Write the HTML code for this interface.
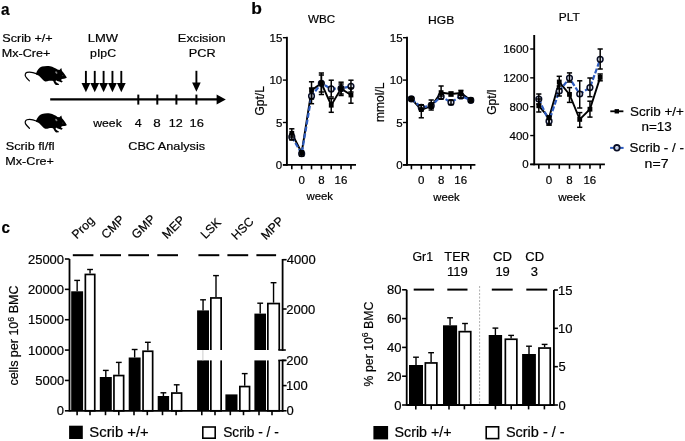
<!DOCTYPE html>
<html><head><meta charset="utf-8"><style>
html,body{margin:0;padding:0;background:#fff;}
svg{display:block;will-change:transform;}
text{font-family:"Liberation Sans",sans-serif;fill:#000;stroke:#000;stroke-width:0.2px;}
</style></head><body>
<svg width="685" height="441" viewBox="0 0 685 441">
<rect width="685" height="441" fill="#fff"/>
<text x="0.89" y="14.50" font-size="17.12" font-weight="700" fill="#000" textLength="8.51" lengthAdjust="spacingAndGlyphs">a</text>
<text x="2.28" y="41.80" font-size="11.60" font-weight="400" fill="#000" textLength="50.39" lengthAdjust="spacingAndGlyphs">Scrib +/+</text>
<text x="1.81" y="56.60" font-size="11.60" font-weight="400" fill="#000" textLength="48.55" lengthAdjust="spacingAndGlyphs">Mx-Cre+</text>
<text x="87.78" y="41.80" font-size="11.60" font-weight="400" fill="#000" textLength="30.31" lengthAdjust="spacingAndGlyphs">LMW</text>
<text x="90.05" y="56.50" font-size="11.60" font-weight="400" fill="#000" textLength="25.99" lengthAdjust="spacingAndGlyphs">pIpC</text>
<text x="177.89" y="42.10" font-size="11.60" font-weight="400" fill="#000" textLength="47.71" lengthAdjust="spacingAndGlyphs">Excision</text>
<text x="188.80" y="57.20" font-size="11.60" font-weight="400" fill="#000" textLength="26.84" lengthAdjust="spacingAndGlyphs">PCR</text>
<text x="93.25" y="127.10" font-size="11.60" font-weight="400" fill="#000" textLength="28.49" lengthAdjust="spacingAndGlyphs">week</text>
<text x="134.67" y="127.10" font-size="11.60" font-weight="400" fill="#000" textLength="6.94" lengthAdjust="spacingAndGlyphs">4</text>
<text x="153.38" y="127.10" font-size="11.60" font-weight="400" fill="#000" textLength="7.46" lengthAdjust="spacingAndGlyphs">8</text>
<text x="168.71" y="127.10" font-size="11.60" font-weight="400" fill="#000" textLength="14.00" lengthAdjust="spacingAndGlyphs">12</text>
<text x="189.58" y="127.10" font-size="11.60" font-weight="400" fill="#000" textLength="14.35" lengthAdjust="spacingAndGlyphs">16</text>
<text x="128.22" y="150.20" font-size="11.60" font-weight="400" fill="#000" textLength="76.88" lengthAdjust="spacingAndGlyphs">CBC Analysis</text>
<text x="5.78" y="150.30" font-size="11.60" font-weight="400" fill="#000" textLength="48.82" lengthAdjust="spacingAndGlyphs">Scrib fl/fl</text>
<text x="5.31" y="165.10" font-size="11.60" font-weight="400" fill="#000" textLength="48.66" lengthAdjust="spacingAndGlyphs">Mx-Cre+</text>
<line x1="50.20" y1="99.40" x2="218.00" y2="99.40" stroke="#000" stroke-width="2.1" />
<path d="M216.6 94.4 L225.8 99.4 L216.6 104.4 Z" fill="#000"/>
<line x1="138.30" y1="94.60" x2="138.30" y2="104.60" stroke="#000" stroke-width="2.0" />
<line x1="157.30" y1="94.60" x2="157.30" y2="104.60" stroke="#000" stroke-width="2.0" />
<line x1="176.40" y1="94.60" x2="176.40" y2="104.60" stroke="#000" stroke-width="2.0" />
<line x1="196.40" y1="94.60" x2="196.40" y2="104.60" stroke="#000" stroke-width="2.0" />
<line x1="85.90" y1="70.90" x2="85.90" y2="84.00" stroke="#000" stroke-width="1.9" />
<path d="M81.50 83.0 L90.30 83.0 L85.90 92.2 Z" fill="#000"/>
<line x1="94.75" y1="70.90" x2="94.75" y2="84.00" stroke="#000" stroke-width="1.9" />
<path d="M90.35 83.0 L99.15 83.0 L94.75 92.2 Z" fill="#000"/>
<line x1="103.60" y1="70.90" x2="103.60" y2="84.00" stroke="#000" stroke-width="1.9" />
<path d="M99.20 83.0 L108.00 83.0 L103.60 92.2 Z" fill="#000"/>
<line x1="112.45" y1="70.90" x2="112.45" y2="84.00" stroke="#000" stroke-width="1.9" />
<path d="M108.05 83.0 L116.85 83.0 L112.45 92.2 Z" fill="#000"/>
<line x1="121.30" y1="70.90" x2="121.30" y2="84.00" stroke="#000" stroke-width="1.9" />
<path d="M116.90 83.0 L125.70 83.0 L121.30 92.2 Z" fill="#000"/>
<line x1="196.40" y1="70.80" x2="196.40" y2="84.00" stroke="#000" stroke-width="1.9" />
<path d="M192.10 82.6 L200.70 82.6 L196.40 91.8 Z" fill="#000"/>
<g transform="translate(22,62)"><path d="M14 11.4 C15 8.5 17 5.5 20 4.6 C22.5 3.9 26 3.8 28.1 4.2 C31 4.8 33.5 6.2 35.5 7.5 L37.4 7.9 L39.3 6.0 L40 8.9 C41.5 10.5 43 12.5 44.8 15.6 C44.2 16.4 43.2 16.6 42 16.7 L39.8 16.9 L39.0 18.2 L40.8 19.2 L39.6 20.4 L37.2 19.6 L35.2 18.9 L34.0 18.2 L33.6 19.5 C34.2 20.4 35.5 21.2 37.0 22.0 L36.8 22.9 L34.2 23.1 C33.2 22.6 32.4 21.6 31.8 20.2 L31.2 19.0 C30 18.6 28.5 18.6 27 18.8 C25.5 19.2 24.2 19.6 23.2 19.4 C21.5 18.6 19.5 16.5 18.4 15.2 C17.2 13.9 15.8 12.8 14 12.4 Z" fill="#000"/><path d="M15 11.9 C11 10.2 7.5 9.6 5 10.4 C3.2 11.1 2.8 12.8 3.6 14.5 C4.5 16.2 6 17.6 7.4 18.9" fill="none" stroke="#000" stroke-width="1.2" stroke-linecap="round"/><ellipse cx="34.3" cy="10.6" rx="0.9" ry="1.4" transform="rotate(-35 34.3 10.6)" fill="#808080"/><circle cx="40.8" cy="13.6" r="0.55" fill="#444"/></g>
<g transform="translate(22,109.4)"><path d="M14 11.4 C15 8.5 17 5.5 20 4.6 C22.5 3.9 26 3.8 28.1 4.2 C31 4.8 33.5 6.2 35.5 7.5 L37.4 7.9 L39.3 6.0 L40 8.9 C41.5 10.5 43 12.5 44.8 15.6 C44.2 16.4 43.2 16.6 42 16.7 L39.8 16.9 L39.0 18.2 L40.8 19.2 L39.6 20.4 L37.2 19.6 L35.2 18.9 L34.0 18.2 L33.6 19.5 C34.2 20.4 35.5 21.2 37.0 22.0 L36.8 22.9 L34.2 23.1 C33.2 22.6 32.4 21.6 31.8 20.2 L31.2 19.0 C30 18.6 28.5 18.6 27 18.8 C25.5 19.2 24.2 19.6 23.2 19.4 C21.5 18.6 19.5 16.5 18.4 15.2 C17.2 13.9 15.8 12.8 14 12.4 Z" fill="#000"/><path d="M15 11.9 C11 10.2 7.5 9.6 5 10.4 C3.2 11.1 2.8 12.8 3.6 14.5 C4.5 16.2 6 17.6 7.4 18.9" fill="none" stroke="#000" stroke-width="1.2" stroke-linecap="round"/><ellipse cx="34.3" cy="10.6" rx="0.9" ry="1.4" transform="rotate(-35 34.3 10.6)" fill="#808080"/><circle cx="40.8" cy="13.6" r="0.55" fill="#444"/></g>
<text x="251.22" y="13.60" font-size="16.55" font-weight="700" fill="#000" textLength="10.64" lengthAdjust="spacingAndGlyphs">b</text>
<text x="308.09" y="22.60" font-size="11.50" font-weight="400" fill="#000" textLength="27.13" lengthAdjust="spacingAndGlyphs">WBC</text>
<text x="428.05" y="23.80" font-size="11.50" font-weight="400" fill="#000" textLength="26.23" lengthAdjust="spacingAndGlyphs">HGB</text>
<text x="558.87" y="20.80" font-size="11.50" font-weight="400" fill="#000" textLength="20.95" lengthAdjust="spacingAndGlyphs">PLT</text>
<line x1="286.90" y1="36.80" x2="286.90" y2="165.80" stroke="#000" stroke-width="1.9" />
<line x1="282.90" y1="164.90" x2="356.00" y2="164.90" stroke="#000" stroke-width="1.9" />
<line x1="282.90" y1="164.90" x2="286.90" y2="164.90" stroke="#000" stroke-width="1.4" />
<text x="275.85" y="168.90" font-size="11.50" font-weight="400" textLength="6.40" lengthAdjust="spacingAndGlyphs">0</text>
<line x1="282.90" y1="122.50" x2="286.90" y2="122.50" stroke="#000" stroke-width="1.4" />
<text x="275.88" y="126.50" font-size="11.50" font-weight="400" textLength="6.40" lengthAdjust="spacingAndGlyphs">5</text>
<line x1="282.90" y1="80.10" x2="286.90" y2="80.10" stroke="#000" stroke-width="1.4" />
<text x="269.47" y="84.10" font-size="11.50" font-weight="400" textLength="12.79" lengthAdjust="spacingAndGlyphs">10</text>
<line x1="282.90" y1="37.70" x2="286.90" y2="37.70" stroke="#000" stroke-width="1.4" />
<text x="269.50" y="41.70" font-size="11.50" font-weight="400" textLength="12.79" lengthAdjust="spacingAndGlyphs">15</text>
<line x1="291.80" y1="164.90" x2="291.80" y2="169.30" stroke="#000" stroke-width="1.6" />
<line x1="301.66" y1="164.90" x2="301.66" y2="169.30" stroke="#000" stroke-width="1.6" />
<line x1="311.52" y1="164.90" x2="311.52" y2="169.30" stroke="#000" stroke-width="1.6" />
<line x1="321.38" y1="164.90" x2="321.38" y2="169.30" stroke="#000" stroke-width="1.6" />
<line x1="331.24" y1="164.90" x2="331.24" y2="169.30" stroke="#000" stroke-width="1.6" />
<line x1="341.10" y1="164.90" x2="341.10" y2="169.30" stroke="#000" stroke-width="1.6" />
<line x1="350.96" y1="164.90" x2="350.96" y2="169.30" stroke="#000" stroke-width="1.6" />
<text x="298.45" y="183.90" font-size="11.50" font-weight="400" textLength="6.40" lengthAdjust="spacingAndGlyphs">0</text>
<text x="318.19" y="183.90" font-size="11.50" font-weight="400" textLength="6.40" lengthAdjust="spacingAndGlyphs">8</text>
<text x="334.53" y="183.90" font-size="11.50" font-weight="400" textLength="12.79" lengthAdjust="spacingAndGlyphs">16</text>
<text x="306.45" y="199.70" font-size="11.50" font-weight="400" fill="#000" textLength="26.59" lengthAdjust="spacingAndGlyphs">week</text>
<text transform="translate(263.60,100.80) rotate(-90)" x="0" y="0" font-size="12.0" text-anchor="middle">Gpt/L</text>
<polyline points="291.80,133.30 301.66,152.60 311.52,90.40 321.38,83.30 331.24,105.20 341.10,88.60 350.96,95.00" fill="none" stroke="#000" stroke-width="1.9"/>
<polyline points="291.80,136.90 301.66,153.70 311.52,96.10 321.38,83.30 331.24,88.90 341.10,88.40 350.96,86.30" fill="none" stroke="#2d5bbf" stroke-width="2.2" stroke-dasharray="5,2"/>
<circle cx="291.80" cy="136.90" r="2.85" fill="#e2e7f4" stroke="#0a0f26" stroke-width="1.5"/>
<circle cx="301.66" cy="153.70" r="2.85" fill="#e2e7f4" stroke="#0a0f26" stroke-width="1.5"/>
<circle cx="311.52" cy="96.10" r="2.85" fill="#e2e7f4" stroke="#0a0f26" stroke-width="1.5"/>
<circle cx="321.38" cy="83.30" r="2.85" fill="#e2e7f4" stroke="#0a0f26" stroke-width="1.5"/>
<circle cx="331.24" cy="88.90" r="2.85" fill="#e2e7f4" stroke="#0a0f26" stroke-width="1.5"/>
<circle cx="341.10" cy="88.40" r="2.85" fill="#e2e7f4" stroke="#0a0f26" stroke-width="1.5"/>
<circle cx="350.96" cy="86.30" r="2.85" fill="#e2e7f4" stroke="#0a0f26" stroke-width="1.5"/>
<line x1="291.80" y1="128.80" x2="291.80" y2="137.00" stroke="#000" stroke-width="1.5" />
<line x1="289.20" y1="128.80" x2="294.40" y2="128.80" stroke="#000" stroke-width="1.5" />
<line x1="289.20" y1="137.00" x2="294.40" y2="137.00" stroke="#000" stroke-width="1.5" />
<line x1="291.80" y1="134.00" x2="291.80" y2="140.00" stroke="#000" stroke-width="1.5" />
<line x1="289.20" y1="134.00" x2="294.40" y2="134.00" stroke="#000" stroke-width="1.5" />
<line x1="289.20" y1="140.00" x2="294.40" y2="140.00" stroke="#000" stroke-width="1.5" />
<line x1="301.66" y1="151.00" x2="301.66" y2="156.00" stroke="#000" stroke-width="1.5" />
<line x1="299.06" y1="151.00" x2="304.26" y2="151.00" stroke="#000" stroke-width="1.5" />
<line x1="299.06" y1="156.00" x2="304.26" y2="156.00" stroke="#000" stroke-width="1.5" />
<line x1="311.52" y1="81.80" x2="311.52" y2="99.00" stroke="#000" stroke-width="1.5" />
<line x1="308.92" y1="81.80" x2="314.12" y2="81.80" stroke="#000" stroke-width="1.5" />
<line x1="308.92" y1="99.00" x2="314.12" y2="99.00" stroke="#000" stroke-width="1.5" />
<line x1="311.52" y1="88.00" x2="311.52" y2="103.70" stroke="#000" stroke-width="1.5" />
<line x1="308.92" y1="88.00" x2="314.12" y2="88.00" stroke="#000" stroke-width="1.5" />
<line x1="308.92" y1="103.70" x2="314.12" y2="103.70" stroke="#000" stroke-width="1.5" />
<line x1="321.38" y1="73.00" x2="321.38" y2="94.50" stroke="#000" stroke-width="1.5" />
<line x1="318.78" y1="73.00" x2="323.98" y2="73.00" stroke="#000" stroke-width="1.5" />
<line x1="318.78" y1="94.50" x2="323.98" y2="94.50" stroke="#000" stroke-width="1.5" />
<line x1="321.38" y1="75.00" x2="321.38" y2="92.00" stroke="#000" stroke-width="1.5" />
<line x1="318.78" y1="75.00" x2="323.98" y2="75.00" stroke="#000" stroke-width="1.5" />
<line x1="318.78" y1="92.00" x2="323.98" y2="92.00" stroke="#000" stroke-width="1.5" />
<line x1="331.24" y1="98.60" x2="331.24" y2="112.30" stroke="#000" stroke-width="1.5" />
<line x1="328.64" y1="98.60" x2="333.84" y2="98.60" stroke="#000" stroke-width="1.5" />
<line x1="328.64" y1="112.30" x2="333.84" y2="112.30" stroke="#000" stroke-width="1.5" />
<line x1="331.24" y1="80.20" x2="331.24" y2="97.00" stroke="#000" stroke-width="1.5" />
<line x1="328.64" y1="80.20" x2="333.84" y2="80.20" stroke="#000" stroke-width="1.5" />
<line x1="328.64" y1="97.00" x2="333.84" y2="97.00" stroke="#000" stroke-width="1.5" />
<line x1="341.10" y1="82.20" x2="341.10" y2="95.50" stroke="#000" stroke-width="1.5" />
<line x1="338.50" y1="82.20" x2="343.70" y2="82.20" stroke="#000" stroke-width="1.5" />
<line x1="338.50" y1="95.50" x2="343.70" y2="95.50" stroke="#000" stroke-width="1.5" />
<line x1="341.10" y1="84.00" x2="341.10" y2="94.00" stroke="#000" stroke-width="1.5" />
<line x1="338.50" y1="84.00" x2="343.70" y2="84.00" stroke="#000" stroke-width="1.5" />
<line x1="338.50" y1="94.00" x2="343.70" y2="94.00" stroke="#000" stroke-width="1.5" />
<line x1="350.96" y1="88.00" x2="350.96" y2="103.20" stroke="#000" stroke-width="1.5" />
<line x1="348.36" y1="88.00" x2="353.56" y2="88.00" stroke="#000" stroke-width="1.5" />
<line x1="348.36" y1="103.20" x2="353.56" y2="103.20" stroke="#000" stroke-width="1.5" />
<line x1="350.96" y1="80.20" x2="350.96" y2="92.00" stroke="#000" stroke-width="1.5" />
<line x1="348.36" y1="80.20" x2="353.56" y2="80.20" stroke="#000" stroke-width="1.5" />
<line x1="348.36" y1="92.00" x2="353.56" y2="92.00" stroke="#000" stroke-width="1.5" />
<rect x="289.40" y="130.90" width="4.80" height="4.80" fill="#000"/>
<rect x="299.26" y="150.20" width="4.80" height="4.80" fill="#000"/>
<rect x="309.12" y="88.00" width="4.80" height="4.80" fill="#000"/>
<rect x="318.98" y="80.90" width="4.80" height="4.80" fill="#000"/>
<rect x="328.84" y="102.80" width="4.80" height="4.80" fill="#000"/>
<rect x="338.70" y="86.20" width="4.80" height="4.80" fill="#000"/>
<rect x="348.56" y="92.60" width="4.80" height="4.80" fill="#000"/>
<line x1="407.00" y1="36.70" x2="407.00" y2="165.80" stroke="#000" stroke-width="1.9" />
<line x1="403.00" y1="164.90" x2="475.40" y2="164.90" stroke="#000" stroke-width="1.9" />
<line x1="403.00" y1="164.90" x2="407.00" y2="164.90" stroke="#000" stroke-width="1.4" />
<text x="396.15" y="168.90" font-size="11.50" font-weight="400" textLength="6.40" lengthAdjust="spacingAndGlyphs">0</text>
<line x1="403.00" y1="122.50" x2="407.00" y2="122.50" stroke="#000" stroke-width="1.4" />
<text x="396.18" y="126.50" font-size="11.50" font-weight="400" textLength="6.40" lengthAdjust="spacingAndGlyphs">5</text>
<line x1="403.00" y1="80.10" x2="407.00" y2="80.10" stroke="#000" stroke-width="1.4" />
<text x="389.77" y="84.10" font-size="11.50" font-weight="400" textLength="12.79" lengthAdjust="spacingAndGlyphs">10</text>
<line x1="403.00" y1="37.70" x2="407.00" y2="37.70" stroke="#000" stroke-width="1.4" />
<text x="389.80" y="41.70" font-size="11.50" font-weight="400" textLength="12.79" lengthAdjust="spacingAndGlyphs">15</text>
<line x1="411.40" y1="164.90" x2="411.40" y2="169.30" stroke="#000" stroke-width="1.6" />
<line x1="421.30" y1="164.90" x2="421.30" y2="169.30" stroke="#000" stroke-width="1.6" />
<line x1="431.20" y1="164.90" x2="431.20" y2="169.30" stroke="#000" stroke-width="1.6" />
<line x1="441.10" y1="164.90" x2="441.10" y2="169.30" stroke="#000" stroke-width="1.6" />
<line x1="451.00" y1="164.90" x2="451.00" y2="169.30" stroke="#000" stroke-width="1.6" />
<line x1="460.90" y1="164.90" x2="460.90" y2="169.30" stroke="#000" stroke-width="1.6" />
<line x1="470.80" y1="164.90" x2="470.80" y2="169.30" stroke="#000" stroke-width="1.6" />
<text x="418.09" y="183.90" font-size="11.50" font-weight="400" textLength="6.40" lengthAdjust="spacingAndGlyphs">0</text>
<text x="437.91" y="183.90" font-size="11.50" font-weight="400" textLength="6.40" lengthAdjust="spacingAndGlyphs">8</text>
<text x="454.33" y="183.90" font-size="11.50" font-weight="400" textLength="12.79" lengthAdjust="spacingAndGlyphs">16</text>
<text x="433.35" y="200.60" font-size="11.50" font-weight="400" fill="#000" textLength="26.39" lengthAdjust="spacingAndGlyphs">week</text>
<text transform="translate(383.60,102.30) rotate(-90)" x="0" y="0" font-size="12.0" text-anchor="middle">mmol/L</text>
<polyline points="411.40,98.80 421.30,109.60 431.20,106.30 441.10,92.60 451.00,94.00 460.90,93.10 470.80,100.30" fill="none" stroke="#000" stroke-width="1.9"/>
<polyline points="411.40,98.80 421.30,107.40 431.20,105.70 441.10,96.40 451.00,102.50 460.90,95.90 470.80,100.30" fill="none" stroke="#2d5bbf" stroke-width="2.2" stroke-dasharray="5,2"/>
<circle cx="411.40" cy="98.80" r="2.85" fill="#e2e7f4" stroke="#0a0f26" stroke-width="1.5"/>
<circle cx="421.30" cy="107.40" r="2.85" fill="#e2e7f4" stroke="#0a0f26" stroke-width="1.5"/>
<circle cx="431.20" cy="105.70" r="2.85" fill="#e2e7f4" stroke="#0a0f26" stroke-width="1.5"/>
<circle cx="441.10" cy="96.40" r="2.85" fill="#e2e7f4" stroke="#0a0f26" stroke-width="1.5"/>
<circle cx="451.00" cy="102.50" r="2.85" fill="#e2e7f4" stroke="#0a0f26" stroke-width="1.5"/>
<circle cx="460.90" cy="95.90" r="2.85" fill="#e2e7f4" stroke="#0a0f26" stroke-width="1.5"/>
<circle cx="470.80" cy="100.30" r="2.85" fill="#e2e7f4" stroke="#0a0f26" stroke-width="1.5"/>
<line x1="411.40" y1="97.00" x2="411.40" y2="100.50" stroke="#000" stroke-width="1.5" />
<line x1="408.80" y1="97.00" x2="414.00" y2="97.00" stroke="#000" stroke-width="1.5" />
<line x1="408.80" y1="100.50" x2="414.00" y2="100.50" stroke="#000" stroke-width="1.5" />
<line x1="411.40" y1="97.00" x2="411.40" y2="100.50" stroke="#000" stroke-width="1.5" />
<line x1="408.80" y1="97.00" x2="414.00" y2="97.00" stroke="#000" stroke-width="1.5" />
<line x1="408.80" y1="100.50" x2="414.00" y2="100.50" stroke="#000" stroke-width="1.5" />
<line x1="421.30" y1="105.00" x2="421.30" y2="117.80" stroke="#000" stroke-width="1.5" />
<line x1="418.70" y1="105.00" x2="423.90" y2="105.00" stroke="#000" stroke-width="1.5" />
<line x1="418.70" y1="117.80" x2="423.90" y2="117.80" stroke="#000" stroke-width="1.5" />
<line x1="421.30" y1="105.00" x2="421.30" y2="110.00" stroke="#000" stroke-width="1.5" />
<line x1="418.70" y1="105.00" x2="423.90" y2="105.00" stroke="#000" stroke-width="1.5" />
<line x1="418.70" y1="110.00" x2="423.90" y2="110.00" stroke="#000" stroke-width="1.5" />
<line x1="431.20" y1="100.00" x2="431.20" y2="110.00" stroke="#000" stroke-width="1.5" />
<line x1="428.60" y1="100.00" x2="433.80" y2="100.00" stroke="#000" stroke-width="1.5" />
<line x1="428.60" y1="110.00" x2="433.80" y2="110.00" stroke="#000" stroke-width="1.5" />
<line x1="431.20" y1="103.00" x2="431.20" y2="108.00" stroke="#000" stroke-width="1.5" />
<line x1="428.60" y1="103.00" x2="433.80" y2="103.00" stroke="#000" stroke-width="1.5" />
<line x1="428.60" y1="108.00" x2="433.80" y2="108.00" stroke="#000" stroke-width="1.5" />
<line x1="441.10" y1="86.00" x2="441.10" y2="96.00" stroke="#000" stroke-width="1.5" />
<line x1="438.50" y1="86.00" x2="443.70" y2="86.00" stroke="#000" stroke-width="1.5" />
<line x1="438.50" y1="96.00" x2="443.70" y2="96.00" stroke="#000" stroke-width="1.5" />
<line x1="441.10" y1="94.00" x2="441.10" y2="99.00" stroke="#000" stroke-width="1.5" />
<line x1="438.50" y1="94.00" x2="443.70" y2="94.00" stroke="#000" stroke-width="1.5" />
<line x1="438.50" y1="99.00" x2="443.70" y2="99.00" stroke="#000" stroke-width="1.5" />
<line x1="451.00" y1="92.00" x2="451.00" y2="96.00" stroke="#000" stroke-width="1.5" />
<line x1="448.40" y1="92.00" x2="453.60" y2="92.00" stroke="#000" stroke-width="1.5" />
<line x1="448.40" y1="96.00" x2="453.60" y2="96.00" stroke="#000" stroke-width="1.5" />
<line x1="451.00" y1="100.00" x2="451.00" y2="104.50" stroke="#000" stroke-width="1.5" />
<line x1="448.40" y1="100.00" x2="453.60" y2="100.00" stroke="#000" stroke-width="1.5" />
<line x1="448.40" y1="104.50" x2="453.60" y2="104.50" stroke="#000" stroke-width="1.5" />
<line x1="460.90" y1="90.40" x2="460.90" y2="95.50" stroke="#000" stroke-width="1.5" />
<line x1="458.30" y1="90.40" x2="463.50" y2="90.40" stroke="#000" stroke-width="1.5" />
<line x1="458.30" y1="95.50" x2="463.50" y2="95.50" stroke="#000" stroke-width="1.5" />
<line x1="460.90" y1="94.00" x2="460.90" y2="98.00" stroke="#000" stroke-width="1.5" />
<line x1="458.30" y1="94.00" x2="463.50" y2="94.00" stroke="#000" stroke-width="1.5" />
<line x1="458.30" y1="98.00" x2="463.50" y2="98.00" stroke="#000" stroke-width="1.5" />
<line x1="470.80" y1="98.00" x2="470.80" y2="102.00" stroke="#000" stroke-width="1.5" />
<line x1="468.20" y1="98.00" x2="473.40" y2="98.00" stroke="#000" stroke-width="1.5" />
<line x1="468.20" y1="102.00" x2="473.40" y2="102.00" stroke="#000" stroke-width="1.5" />
<line x1="470.80" y1="99.00" x2="470.80" y2="101.50" stroke="#000" stroke-width="1.5" />
<line x1="468.20" y1="99.00" x2="473.40" y2="99.00" stroke="#000" stroke-width="1.5" />
<line x1="468.20" y1="101.50" x2="473.40" y2="101.50" stroke="#000" stroke-width="1.5" />
<rect x="409.00" y="96.40" width="4.80" height="4.80" fill="#000"/>
<rect x="418.90" y="107.20" width="4.80" height="4.80" fill="#000"/>
<rect x="428.80" y="103.90" width="4.80" height="4.80" fill="#000"/>
<rect x="438.70" y="90.20" width="4.80" height="4.80" fill="#000"/>
<rect x="448.60" y="91.60" width="4.80" height="4.80" fill="#000"/>
<rect x="458.50" y="90.70" width="4.80" height="4.80" fill="#000"/>
<rect x="468.40" y="97.90" width="4.80" height="4.80" fill="#000"/>
<line x1="534.20" y1="35.00" x2="534.20" y2="165.30" stroke="#000" stroke-width="1.9" />
<line x1="530.20" y1="164.40" x2="604.90" y2="164.40" stroke="#000" stroke-width="1.9" />
<line x1="530.20" y1="164.40" x2="534.20" y2="164.40" stroke="#000" stroke-width="1.4" />
<text x="522.35" y="168.40" font-size="11.50" font-weight="400" textLength="6.40" lengthAdjust="spacingAndGlyphs">0</text>
<line x1="530.20" y1="135.55" x2="534.20" y2="135.55" stroke="#000" stroke-width="1.4" />
<text x="509.55" y="139.55" font-size="11.50" font-weight="400" textLength="19.19" lengthAdjust="spacingAndGlyphs">400</text>
<line x1="530.20" y1="106.70" x2="534.20" y2="106.70" stroke="#000" stroke-width="1.4" />
<text x="509.55" y="110.70" font-size="11.50" font-weight="400" textLength="19.19" lengthAdjust="spacingAndGlyphs">800</text>
<line x1="530.20" y1="77.85" x2="534.20" y2="77.85" stroke="#000" stroke-width="1.4" />
<text x="503.17" y="81.85" font-size="11.50" font-weight="400" textLength="25.58" lengthAdjust="spacingAndGlyphs">1200</text>
<line x1="530.20" y1="49.00" x2="534.20" y2="49.00" stroke="#000" stroke-width="1.4" />
<text x="503.17" y="53.00" font-size="11.50" font-weight="400" textLength="25.58" lengthAdjust="spacingAndGlyphs">1600</text>
<line x1="538.80" y1="164.40" x2="538.80" y2="168.80" stroke="#000" stroke-width="1.6" />
<line x1="549.03" y1="164.40" x2="549.03" y2="168.80" stroke="#000" stroke-width="1.6" />
<line x1="559.26" y1="164.40" x2="559.26" y2="168.80" stroke="#000" stroke-width="1.6" />
<line x1="569.49" y1="164.40" x2="569.49" y2="168.80" stroke="#000" stroke-width="1.6" />
<line x1="579.72" y1="164.40" x2="579.72" y2="168.80" stroke="#000" stroke-width="1.6" />
<line x1="589.95" y1="164.40" x2="589.95" y2="168.80" stroke="#000" stroke-width="1.6" />
<line x1="600.18" y1="164.40" x2="600.18" y2="168.80" stroke="#000" stroke-width="1.6" />
<text x="545.82" y="184.40" font-size="11.50" font-weight="400" textLength="6.40" lengthAdjust="spacingAndGlyphs">0</text>
<text x="566.30" y="184.40" font-size="11.50" font-weight="400" textLength="6.40" lengthAdjust="spacingAndGlyphs">8</text>
<text x="583.38" y="184.40" font-size="11.50" font-weight="400" textLength="12.79" lengthAdjust="spacingAndGlyphs">16</text>
<text x="558.15" y="200.60" font-size="11.50" font-weight="400" fill="#000" textLength="27.29" lengthAdjust="spacingAndGlyphs">week</text>
<text transform="translate(496.20,102.20) rotate(-90)" x="0" y="0" font-size="12.0" text-anchor="middle">Gpt/l</text>
<polyline points="538.80,105.80 549.03,117.80 559.26,82.00 569.49,94.40 579.72,119.40 589.95,109.20 600.18,77.40" fill="none" stroke="#000" stroke-width="1.9"/>
<polyline points="538.80,99.00 549.03,121.20 559.26,91.00 569.49,78.10 579.72,94.00 589.95,87.60 600.18,59.30" fill="none" stroke="#2d5bbf" stroke-width="2.2" stroke-dasharray="5,2"/>
<circle cx="538.80" cy="99.00" r="2.85" fill="#e2e7f4" stroke="#0a0f26" stroke-width="1.5"/>
<circle cx="549.03" cy="121.20" r="2.85" fill="#e2e7f4" stroke="#0a0f26" stroke-width="1.5"/>
<circle cx="559.26" cy="91.00" r="2.85" fill="#e2e7f4" stroke="#0a0f26" stroke-width="1.5"/>
<circle cx="569.49" cy="78.10" r="2.85" fill="#e2e7f4" stroke="#0a0f26" stroke-width="1.5"/>
<circle cx="579.72" cy="94.00" r="2.85" fill="#e2e7f4" stroke="#0a0f26" stroke-width="1.5"/>
<circle cx="589.95" cy="87.60" r="2.85" fill="#e2e7f4" stroke="#0a0f26" stroke-width="1.5"/>
<circle cx="600.18" cy="59.30" r="2.85" fill="#e2e7f4" stroke="#0a0f26" stroke-width="1.5"/>
<line x1="538.80" y1="99.00" x2="538.80" y2="112.00" stroke="#000" stroke-width="1.5" />
<line x1="536.20" y1="99.00" x2="541.40" y2="99.00" stroke="#000" stroke-width="1.5" />
<line x1="536.20" y1="112.00" x2="541.40" y2="112.00" stroke="#000" stroke-width="1.5" />
<line x1="538.80" y1="94.00" x2="538.80" y2="104.00" stroke="#000" stroke-width="1.5" />
<line x1="536.20" y1="94.00" x2="541.40" y2="94.00" stroke="#000" stroke-width="1.5" />
<line x1="536.20" y1="104.00" x2="541.40" y2="104.00" stroke="#000" stroke-width="1.5" />
<line x1="549.03" y1="116.00" x2="549.03" y2="125.00" stroke="#000" stroke-width="1.5" />
<line x1="546.43" y1="116.00" x2="551.63" y2="116.00" stroke="#000" stroke-width="1.5" />
<line x1="546.43" y1="125.00" x2="551.63" y2="125.00" stroke="#000" stroke-width="1.5" />
<line x1="549.03" y1="117.00" x2="549.03" y2="125.00" stroke="#000" stroke-width="1.5" />
<line x1="546.43" y1="117.00" x2="551.63" y2="117.00" stroke="#000" stroke-width="1.5" />
<line x1="546.43" y1="125.00" x2="551.63" y2="125.00" stroke="#000" stroke-width="1.5" />
<line x1="559.26" y1="76.30" x2="559.26" y2="88.80" stroke="#000" stroke-width="1.5" />
<line x1="556.66" y1="76.30" x2="561.86" y2="76.30" stroke="#000" stroke-width="1.5" />
<line x1="556.66" y1="88.80" x2="561.86" y2="88.80" stroke="#000" stroke-width="1.5" />
<line x1="559.26" y1="86.00" x2="559.26" y2="96.00" stroke="#000" stroke-width="1.5" />
<line x1="556.66" y1="86.00" x2="561.86" y2="86.00" stroke="#000" stroke-width="1.5" />
<line x1="556.66" y1="96.00" x2="561.86" y2="96.00" stroke="#000" stroke-width="1.5" />
<line x1="569.49" y1="87.60" x2="569.49" y2="102.40" stroke="#000" stroke-width="1.5" />
<line x1="566.89" y1="87.60" x2="572.09" y2="87.60" stroke="#000" stroke-width="1.5" />
<line x1="566.89" y1="102.40" x2="572.09" y2="102.40" stroke="#000" stroke-width="1.5" />
<line x1="569.49" y1="72.90" x2="569.49" y2="82.00" stroke="#000" stroke-width="1.5" />
<line x1="566.89" y1="72.90" x2="572.09" y2="72.90" stroke="#000" stroke-width="1.5" />
<line x1="566.89" y1="82.00" x2="572.09" y2="82.00" stroke="#000" stroke-width="1.5" />
<line x1="579.72" y1="112.60" x2="579.72" y2="127.30" stroke="#000" stroke-width="1.5" />
<line x1="577.12" y1="112.60" x2="582.32" y2="112.60" stroke="#000" stroke-width="1.5" />
<line x1="577.12" y1="127.30" x2="582.32" y2="127.30" stroke="#000" stroke-width="1.5" />
<line x1="579.72" y1="80.80" x2="579.72" y2="108.00" stroke="#000" stroke-width="1.5" />
<line x1="577.12" y1="80.80" x2="582.32" y2="80.80" stroke="#000" stroke-width="1.5" />
<line x1="577.12" y1="108.00" x2="582.32" y2="108.00" stroke="#000" stroke-width="1.5" />
<line x1="589.95" y1="101.20" x2="589.95" y2="117.10" stroke="#000" stroke-width="1.5" />
<line x1="587.35" y1="101.20" x2="592.55" y2="101.20" stroke="#000" stroke-width="1.5" />
<line x1="587.35" y1="117.10" x2="592.55" y2="117.10" stroke="#000" stroke-width="1.5" />
<line x1="589.95" y1="78.00" x2="589.95" y2="96.70" stroke="#000" stroke-width="1.5" />
<line x1="587.35" y1="78.00" x2="592.55" y2="78.00" stroke="#000" stroke-width="1.5" />
<line x1="587.35" y1="96.70" x2="592.55" y2="96.70" stroke="#000" stroke-width="1.5" />
<line x1="600.18" y1="74.00" x2="600.18" y2="80.80" stroke="#000" stroke-width="1.5" />
<line x1="597.58" y1="74.00" x2="602.78" y2="74.00" stroke="#000" stroke-width="1.5" />
<line x1="597.58" y1="80.80" x2="602.78" y2="80.80" stroke="#000" stroke-width="1.5" />
<line x1="600.18" y1="49.00" x2="600.18" y2="69.00" stroke="#000" stroke-width="1.5" />
<line x1="597.58" y1="49.00" x2="602.78" y2="49.00" stroke="#000" stroke-width="1.5" />
<line x1="597.58" y1="69.00" x2="602.78" y2="69.00" stroke="#000" stroke-width="1.5" />
<rect x="536.40" y="103.40" width="4.80" height="4.80" fill="#000"/>
<rect x="546.63" y="115.40" width="4.80" height="4.80" fill="#000"/>
<rect x="556.86" y="79.60" width="4.80" height="4.80" fill="#000"/>
<rect x="567.09" y="92.00" width="4.80" height="4.80" fill="#000"/>
<rect x="577.32" y="117.00" width="4.80" height="4.80" fill="#000"/>
<rect x="587.55" y="106.80" width="4.80" height="4.80" fill="#000"/>
<rect x="597.78" y="75.00" width="4.80" height="4.80" fill="#000"/>
<line x1="610.30" y1="111.30" x2="623.40" y2="111.30" stroke="#000" stroke-width="1.8" />
<rect x="614.60" y="109.10" width="4.40" height="4.40" fill="#000"/>
<text x="630.05" y="115.60" font-size="13.00" font-weight="400" fill="#000" textLength="53.77" lengthAdjust="spacingAndGlyphs">Scrib +/+</text>
<text x="641.44" y="131.40" font-size="13.00" font-weight="400" fill="#000" textLength="30.28" lengthAdjust="spacingAndGlyphs">n=13</text>
<line x1="610.10" y1="147.90" x2="623.60" y2="147.90" stroke="#2d5bbf" stroke-width="2.0" />
<circle cx="616.9" cy="147.8" r="2.8" fill="#fff" fill-opacity="0.7" stroke="#0a0f26" stroke-width="1.8"/>
<text x="629.55" y="151.60" font-size="13.00" font-weight="400" fill="#000" textLength="54.42" lengthAdjust="spacingAndGlyphs">Scrib - / -</text>
<text x="644.60" y="167.60" font-size="13.00" font-weight="400" fill="#000" textLength="23.87" lengthAdjust="spacingAndGlyphs">n=7</text>
<text x="1.39" y="233.40" font-size="16.19" font-weight="700" fill="#000" textLength="8.44" lengthAdjust="spacingAndGlyphs">c</text>
<line x1="69.50" y1="259.00" x2="69.50" y2="411.60" stroke="#000" stroke-width="1.8" />
<line x1="64.90" y1="410.80" x2="69.50" y2="410.80" stroke="#000" stroke-width="1.6" />
<text x="56.87" y="415.30" font-size="13.00" font-weight="400" textLength="7.23" lengthAdjust="spacingAndGlyphs">0</text>
<line x1="64.90" y1="380.44" x2="69.50" y2="380.44" stroke="#000" stroke-width="1.6" />
<text x="35.20" y="384.94" font-size="13.00" font-weight="400" textLength="28.92" lengthAdjust="spacingAndGlyphs">5000</text>
<line x1="64.90" y1="350.08" x2="69.50" y2="350.08" stroke="#000" stroke-width="1.6" />
<text x="27.95" y="354.58" font-size="13.00" font-weight="400" textLength="36.15" lengthAdjust="spacingAndGlyphs">10000</text>
<line x1="64.90" y1="319.72" x2="69.50" y2="319.72" stroke="#000" stroke-width="1.6" />
<text x="27.95" y="324.22" font-size="13.00" font-weight="400" textLength="36.15" lengthAdjust="spacingAndGlyphs">15000</text>
<line x1="64.90" y1="289.36" x2="69.50" y2="289.36" stroke="#000" stroke-width="1.6" />
<text x="27.95" y="293.86" font-size="13.00" font-weight="400" textLength="36.15" lengthAdjust="spacingAndGlyphs">20000</text>
<line x1="64.90" y1="259.00" x2="69.50" y2="259.00" stroke="#000" stroke-width="1.6" />
<text x="27.95" y="263.50" font-size="13.00" font-weight="400" textLength="36.15" lengthAdjust="spacingAndGlyphs">25000</text>
<line x1="69.50" y1="410.80" x2="283.40" y2="410.80" stroke="#000" stroke-width="1.8" />
<line x1="77.10" y1="410.80" x2="77.10" y2="415.20" stroke="#000" stroke-width="1.6" />
<line x1="90.00" y1="410.80" x2="90.00" y2="415.20" stroke="#000" stroke-width="1.6" />
<line x1="105.50" y1="410.80" x2="105.50" y2="415.20" stroke="#000" stroke-width="1.6" />
<line x1="118.80" y1="410.80" x2="118.80" y2="415.20" stroke="#000" stroke-width="1.6" />
<line x1="134.00" y1="410.80" x2="134.00" y2="415.20" stroke="#000" stroke-width="1.6" />
<line x1="147.30" y1="410.80" x2="147.30" y2="415.20" stroke="#000" stroke-width="1.6" />
<line x1="162.50" y1="410.80" x2="162.50" y2="415.20" stroke="#000" stroke-width="1.6" />
<line x1="176.10" y1="410.80" x2="176.10" y2="415.20" stroke="#000" stroke-width="1.6" />
<line x1="201.80" y1="410.80" x2="201.80" y2="415.20" stroke="#000" stroke-width="1.6" />
<line x1="215.00" y1="410.80" x2="215.00" y2="415.20" stroke="#000" stroke-width="1.6" />
<line x1="230.30" y1="410.80" x2="230.30" y2="415.20" stroke="#000" stroke-width="1.6" />
<line x1="243.50" y1="410.80" x2="243.50" y2="415.20" stroke="#000" stroke-width="1.6" />
<line x1="259.00" y1="410.80" x2="259.00" y2="415.20" stroke="#000" stroke-width="1.6" />
<line x1="272.00" y1="410.80" x2="272.00" y2="415.20" stroke="#000" stroke-width="1.6" />
<line x1="72.80" y1="255.20" x2="93.40" y2="255.20" stroke="#000" stroke-width="2.0" />
<line x1="100.00" y1="255.20" x2="121.00" y2="255.20" stroke="#000" stroke-width="2.0" />
<line x1="128.30" y1="255.20" x2="149.00" y2="255.20" stroke="#000" stroke-width="2.0" />
<line x1="157.30" y1="255.20" x2="178.00" y2="255.20" stroke="#000" stroke-width="2.0" />
<line x1="198.40" y1="255.20" x2="219.30" y2="255.20" stroke="#000" stroke-width="2.0" />
<line x1="227.40" y1="255.20" x2="248.20" y2="255.20" stroke="#000" stroke-width="2.0" />
<line x1="256.40" y1="255.20" x2="276.10" y2="255.20" stroke="#000" stroke-width="2.0" />
<line x1="77.15" y1="280.40" x2="77.15" y2="291.30" stroke="#000" stroke-width="1.4" />
<line x1="74.25" y1="280.40" x2="80.05" y2="280.40" stroke="#000" stroke-width="1.4" />
<rect x="71.20" y="291.30" width="11.90" height="119.50" fill="#000"/>
<line x1="90.05" y1="269.50" x2="90.05" y2="273.60" stroke="#000" stroke-width="1.4" />
<line x1="87.15" y1="269.50" x2="92.95" y2="269.50" stroke="#000" stroke-width="1.4" />
<rect x="85.35" y="274.45" width="9.40" height="136.35" fill="#fff" stroke="#000" stroke-width="1.7"/>
<line x1="105.80" y1="370.40" x2="105.80" y2="377.00" stroke="#000" stroke-width="1.4" />
<line x1="102.90" y1="370.40" x2="108.70" y2="370.40" stroke="#000" stroke-width="1.4" />
<rect x="99.80" y="377.00" width="12.00" height="33.80" fill="#000"/>
<line x1="118.80" y1="362.40" x2="118.80" y2="374.70" stroke="#000" stroke-width="1.4" />
<line x1="115.90" y1="362.40" x2="121.70" y2="362.40" stroke="#000" stroke-width="1.4" />
<rect x="113.95" y="375.55" width="9.70" height="35.25" fill="#fff" stroke="#000" stroke-width="1.7"/>
<line x1="134.65" y1="349.50" x2="134.65" y2="357.50" stroke="#000" stroke-width="1.4" />
<line x1="131.75" y1="349.50" x2="137.55" y2="349.50" stroke="#000" stroke-width="1.4" />
<rect x="128.70" y="357.50" width="11.90" height="53.30" fill="#000"/>
<line x1="147.85" y1="342.30" x2="147.85" y2="350.40" stroke="#000" stroke-width="1.4" />
<line x1="144.95" y1="342.30" x2="150.75" y2="342.30" stroke="#000" stroke-width="1.4" />
<rect x="143.05" y="351.25" width="9.60" height="59.55" fill="#fff" stroke="#000" stroke-width="1.7"/>
<line x1="163.40" y1="392.80" x2="163.40" y2="396.00" stroke="#000" stroke-width="1.4" />
<line x1="160.50" y1="392.80" x2="166.30" y2="392.80" stroke="#000" stroke-width="1.4" />
<rect x="157.70" y="396.00" width="11.40" height="14.80" fill="#000"/>
<line x1="176.70" y1="384.80" x2="176.70" y2="392.20" stroke="#000" stroke-width="1.4" />
<line x1="173.80" y1="384.80" x2="179.60" y2="384.80" stroke="#000" stroke-width="1.4" />
<rect x="171.85" y="393.05" width="9.70" height="17.75" fill="#fff" stroke="#000" stroke-width="1.7"/>
<line x1="203.05" y1="299.80" x2="203.05" y2="310.40" stroke="#000" stroke-width="1.4" />
<line x1="200.15" y1="299.80" x2="205.95" y2="299.80" stroke="#000" stroke-width="1.4" />
<rect x="197.10" y="310.40" width="11.90" height="100.40" fill="#000"/>
<line x1="216.00" y1="275.60" x2="216.00" y2="297.10" stroke="#000" stroke-width="1.4" />
<line x1="213.10" y1="275.60" x2="218.90" y2="275.60" stroke="#000" stroke-width="1.4" />
<rect x="210.85" y="297.95" width="10.30" height="112.85" fill="#fff" stroke="#000" stroke-width="1.7"/>
<rect x="225.40" y="394.40" width="12.10" height="16.40" fill="#000"/>
<line x1="244.70" y1="373.60" x2="244.70" y2="385.70" stroke="#000" stroke-width="1.4" />
<line x1="241.80" y1="373.60" x2="247.60" y2="373.60" stroke="#000" stroke-width="1.4" />
<rect x="239.85" y="386.55" width="9.70" height="24.25" fill="#fff" stroke="#000" stroke-width="1.7"/>
<line x1="260.20" y1="303.20" x2="260.20" y2="313.60" stroke="#000" stroke-width="1.4" />
<line x1="257.30" y1="303.20" x2="263.10" y2="303.20" stroke="#000" stroke-width="1.4" />
<rect x="254.40" y="313.60" width="11.60" height="97.20" fill="#000"/>
<line x1="273.55" y1="282.70" x2="273.55" y2="302.70" stroke="#000" stroke-width="1.4" />
<line x1="270.65" y1="282.70" x2="276.45" y2="282.70" stroke="#000" stroke-width="1.4" />
<rect x="267.85" y="303.55" width="11.40" height="107.25" fill="#fff" stroke="#000" stroke-width="1.7"/>
<rect x="190.00" y="350.00" width="110.00" height="10.40" fill="#fff"/>
<line x1="202.90" y1="350.00" x2="202.90" y2="360.40" stroke="#ccc" stroke-width="1.0" />
<line x1="278.30" y1="350.00" x2="285.80" y2="350.00" stroke="#000" stroke-width="1.6" />
<line x1="278.30" y1="360.40" x2="285.80" y2="360.40" stroke="#000" stroke-width="1.6" />
<line x1="282.60" y1="259.00" x2="282.60" y2="350.80" stroke="#000" stroke-width="1.8" />
<line x1="282.60" y1="359.60" x2="282.60" y2="411.60" stroke="#000" stroke-width="1.8" />
<line x1="282.60" y1="259.70" x2="286.60" y2="259.70" stroke="#000" stroke-width="1.6" />
<text x="286.71" y="264.20" font-size="13.0">4000</text>
<line x1="282.60" y1="309.00" x2="286.60" y2="309.00" stroke="#000" stroke-width="1.6" />
<text x="286.35" y="313.50" font-size="13.0">2000</text>
<line x1="282.60" y1="360.40" x2="286.60" y2="360.40" stroke="#000" stroke-width="1.6" />
<text x="286.35" y="364.90" font-size="13.0">200</text>
<line x1="282.60" y1="385.60" x2="286.60" y2="385.60" stroke="#000" stroke-width="1.6" />
<text x="286.02" y="390.10" font-size="13.0">100</text>
<line x1="282.60" y1="410.80" x2="286.60" y2="410.80" stroke="#000" stroke-width="1.6" />
<text x="286.48" y="415.30" font-size="13.0">0</text>
<text transform="translate(76.80,239.50) rotate(-45)" font-size="12.2">Prog</text>
<text transform="translate(106.20,239.50) rotate(-45)" font-size="12.2">CMP</text>
<text transform="translate(136.60,239.50) rotate(-45)" font-size="12.2">GMP</text>
<text transform="translate(167.00,239.50) rotate(-45)" font-size="12.2">MEP</text>
<text transform="translate(205.50,239.60) rotate(-45)" font-size="12.2">LSK</text>
<text transform="translate(236.20,240.50) rotate(-45)" font-size="12.2">HSC</text>
<text transform="translate(265.90,240.50) rotate(-45)" font-size="12.2">MPP</text>
<text transform="translate(18.4,335.6) rotate(-90)" font-size="12.5" text-anchor="middle">cells per 10<tspan font-size="8.7" dy="-4.8">6</tspan><tspan dy="4.8"> BMC</tspan></text>
<rect x="69.10" y="425.70" width="13.70" height="13.30" fill="#000"/>
<text x="89.38" y="437.20" font-size="14.00" font-weight="400" fill="#000" textLength="59.30" lengthAdjust="spacingAndGlyphs">Scrib +/+</text>
<rect x="202.8" y="427.0" width="12.4" height="11.2" fill="#fff" stroke="#000" stroke-width="1.6"/>
<text x="223.13" y="437.20" font-size="14.00" font-weight="400" fill="#000" textLength="55.65" lengthAdjust="spacingAndGlyphs">Scrib - / -</text>
<line x1="406.70" y1="289.80" x2="406.70" y2="405.80" stroke="#000" stroke-width="1.8" />
<line x1="553.90" y1="290.00" x2="553.90" y2="405.80" stroke="#000" stroke-width="1.8" />
<line x1="406.70" y1="405.00" x2="553.90" y2="405.00" stroke="#000" stroke-width="1.8" />
<line x1="402.10" y1="405.00" x2="406.70" y2="405.00" stroke="#000" stroke-width="1.6" />
<text x="394.27" y="409.50" font-size="13.00" font-weight="400" textLength="7.23" lengthAdjust="spacingAndGlyphs">0</text>
<line x1="402.10" y1="376.20" x2="406.70" y2="376.20" stroke="#000" stroke-width="1.6" />
<text x="387.06" y="380.70" font-size="13.00" font-weight="400" textLength="14.46" lengthAdjust="spacingAndGlyphs">20</text>
<line x1="402.10" y1="347.40" x2="406.70" y2="347.40" stroke="#000" stroke-width="1.6" />
<text x="387.06" y="351.90" font-size="13.00" font-weight="400" textLength="14.46" lengthAdjust="spacingAndGlyphs">40</text>
<line x1="402.10" y1="318.60" x2="406.70" y2="318.60" stroke="#000" stroke-width="1.6" />
<text x="387.06" y="323.10" font-size="13.00" font-weight="400" textLength="14.46" lengthAdjust="spacingAndGlyphs">60</text>
<line x1="402.10" y1="289.80" x2="406.70" y2="289.80" stroke="#000" stroke-width="1.6" />
<text x="387.06" y="294.30" font-size="13.00" font-weight="400" textLength="14.46" lengthAdjust="spacingAndGlyphs">80</text>
<line x1="553.90" y1="405.00" x2="557.90" y2="405.00" stroke="#000" stroke-width="1.6" />
<text x="558.38" y="409.50" font-size="13.0">0</text>
<line x1="553.90" y1="366.67" x2="557.90" y2="366.67" stroke="#000" stroke-width="1.6" />
<text x="558.38" y="371.17" font-size="13.0">5</text>
<line x1="553.90" y1="328.34" x2="557.90" y2="328.34" stroke="#000" stroke-width="1.6" />
<text x="557.92" y="332.84" font-size="13.0">10</text>
<line x1="553.90" y1="290.01" x2="557.90" y2="290.01" stroke="#000" stroke-width="1.6" />
<text x="557.92" y="294.51" font-size="13.0">15</text>
<line x1="415.80" y1="405.00" x2="415.80" y2="409.40" stroke="#000" stroke-width="1.6" />
<line x1="431.20" y1="405.00" x2="431.20" y2="409.40" stroke="#000" stroke-width="1.6" />
<line x1="449.00" y1="405.00" x2="449.00" y2="409.40" stroke="#000" stroke-width="1.6" />
<line x1="464.40" y1="405.00" x2="464.40" y2="409.40" stroke="#000" stroke-width="1.6" />
<line x1="495.40" y1="405.00" x2="495.40" y2="409.40" stroke="#000" stroke-width="1.6" />
<line x1="511.20" y1="405.00" x2="511.20" y2="409.40" stroke="#000" stroke-width="1.6" />
<line x1="528.60" y1="405.00" x2="528.60" y2="409.40" stroke="#000" stroke-width="1.6" />
<line x1="544.40" y1="405.00" x2="544.40" y2="409.40" stroke="#000" stroke-width="1.6" />
<line x1="413.70" y1="289.60" x2="434.10" y2="289.60" stroke="#000" stroke-width="2.0" />
<line x1="447.30" y1="289.60" x2="467.50" y2="289.60" stroke="#000" stroke-width="2.0" />
<line x1="491.80" y1="289.60" x2="512.70" y2="289.60" stroke="#000" stroke-width="2.0" />
<line x1="526.30" y1="289.60" x2="547.20" y2="289.60" stroke="#000" stroke-width="2.0" />
<line x1="479.60" y1="286.00" x2="479.60" y2="404.00" stroke="#999" stroke-width="0.8" stroke-dasharray="2,1.5"/>
<line x1="416.00" y1="357.20" x2="416.00" y2="365.00" stroke="#000" stroke-width="1.4" />
<line x1="413.10" y1="357.20" x2="418.90" y2="357.20" stroke="#000" stroke-width="1.4" />
<rect x="409.00" y="365.00" width="14.00" height="40.00" fill="#000"/>
<line x1="431.10" y1="352.70" x2="431.10" y2="362.10" stroke="#000" stroke-width="1.4" />
<line x1="428.20" y1="352.70" x2="434.00" y2="352.70" stroke="#000" stroke-width="1.4" />
<rect x="425.35" y="362.95" width="11.50" height="42.05" fill="#fff" stroke="#000" stroke-width="1.7"/>
<line x1="450.05" y1="317.80" x2="450.05" y2="325.30" stroke="#000" stroke-width="1.4" />
<line x1="447.15" y1="317.80" x2="452.95" y2="317.80" stroke="#000" stroke-width="1.4" />
<rect x="443.00" y="325.30" width="14.10" height="79.70" fill="#000"/>
<line x1="465.00" y1="323.50" x2="465.00" y2="330.80" stroke="#000" stroke-width="1.4" />
<line x1="462.10" y1="323.50" x2="467.90" y2="323.50" stroke="#000" stroke-width="1.4" />
<rect x="459.25" y="331.65" width="11.50" height="73.35" fill="#fff" stroke="#000" stroke-width="1.7"/>
<line x1="495.40" y1="328.10" x2="495.40" y2="335.00" stroke="#000" stroke-width="1.4" />
<line x1="492.50" y1="328.10" x2="498.30" y2="328.10" stroke="#000" stroke-width="1.4" />
<rect x="488.70" y="335.00" width="13.40" height="70.00" fill="#000"/>
<line x1="511.10" y1="335.40" x2="511.10" y2="338.40" stroke="#000" stroke-width="1.4" />
<line x1="508.20" y1="335.40" x2="514.00" y2="335.40" stroke="#000" stroke-width="1.4" />
<rect x="505.35" y="339.25" width="11.50" height="65.75" fill="#fff" stroke="#000" stroke-width="1.7"/>
<line x1="529.00" y1="346.20" x2="529.00" y2="354.00" stroke="#000" stroke-width="1.4" />
<line x1="526.10" y1="346.20" x2="531.90" y2="346.20" stroke="#000" stroke-width="1.4" />
<rect x="522.10" y="354.00" width="13.80" height="51.00" fill="#000"/>
<line x1="544.60" y1="344.40" x2="544.60" y2="347.20" stroke="#000" stroke-width="1.4" />
<line x1="541.70" y1="344.40" x2="547.50" y2="344.40" stroke="#000" stroke-width="1.4" />
<rect x="538.95" y="348.05" width="11.30" height="56.95" fill="#fff" stroke="#000" stroke-width="1.7"/>
<text x="412.53" y="261.00" font-size="13.00" font-weight="400" fill="#000" textLength="20.53" lengthAdjust="spacingAndGlyphs">Gr1</text>
<text x="444.36" y="261.00" font-size="13.00" font-weight="400" fill="#000" textLength="25.60" lengthAdjust="spacingAndGlyphs">TER</text>
<text x="447.05" y="275.70" font-size="13.00" font-weight="400" textLength="20.73" lengthAdjust="spacingAndGlyphs">119</text>
<text x="493.09" y="261.00" font-size="13.00" font-weight="400" fill="#000" textLength="18.97" lengthAdjust="spacingAndGlyphs">CD</text>
<text x="495.39" y="275.70" font-size="13.00" font-weight="400" textLength="14.46" lengthAdjust="spacingAndGlyphs">19</text>
<text x="525.30" y="261.00" font-size="13.00" font-weight="400" fill="#000" textLength="18.76" lengthAdjust="spacingAndGlyphs">CD</text>
<text x="530.82" y="275.70" font-size="13.00" font-weight="400" textLength="7.23" lengthAdjust="spacingAndGlyphs">3</text>
<text transform="translate(372.6,344.0) rotate(-90)" font-size="12.3" text-anchor="middle">% per 10<tspan font-size="8.6" dy="-4.7">6</tspan><tspan dy="4.7"> BMC</tspan></text>
<rect x="373.40" y="426.00" width="14.70" height="13.40" fill="#000"/>
<text x="394.51" y="437.20" font-size="14.00" font-weight="400" fill="#000" textLength="57.05" lengthAdjust="spacingAndGlyphs">Scrib +/+</text>
<rect x="486.2" y="426.8" width="12.4" height="11.8" fill="#fff" stroke="#000" stroke-width="1.6"/>
<text x="505.90" y="437.20" font-size="14.00" font-weight="400" fill="#000" textLength="58.71" lengthAdjust="spacingAndGlyphs">Scrib - / -</text>
</svg>
</body></html>
